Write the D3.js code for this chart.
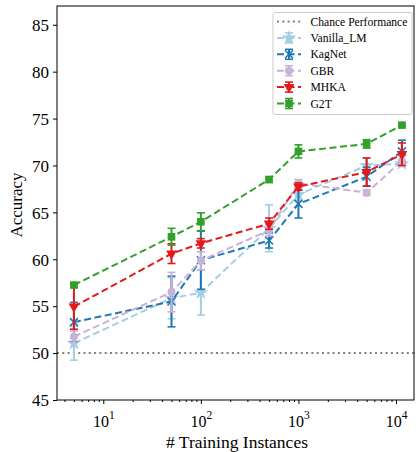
<!DOCTYPE html>
<html>
<head>
<meta charset="utf-8">
<script src="https://cdn.jsdelivr.net/npm/d3@7"></script>
<style>
  body { margin: 0; background: #fff; }
  svg { display: block; font-family: "Liberation Serif", "DejaVu Serif", serif; }
</style>
</head>
<body>
<div id="chart"></div>
<script>
// Accuracy vs number of training instances, with error bars

const trainSizes = [5, 50, 100, 500, 1000, 5000, 11500];

const vanillaMean = [51.05, 55.85, 56.45, 63.3, 66.9, 70.0, 70.2];
const vanillaErr  = [1.8, 2.2, 2.4, 2.5, 0.6, 0.8, 0.3];
const kagnetMean  = [53.3, 55.5, 59.9, 62.0, 65.9, 68.8, 71.5];
const kagnetErr   = [2.1, 2.7, 3.1, 0.8, 1.5, 1.0, 1.2];
const gbrMean     = [51.75, 56.5, 59.85, 63.1, 68.1, 67.1, 70.5];
const gbrErr      = [0.6, 2.1, 0.95, 0.6, 0.4, 0.3, 0.5];
const mhkaMean    = [54.95, 60.6, 61.7, 63.8, 67.75, 69.3, 71.2];
const mhkaErr     = [2.4, 1.05, 0.5, 0.6, 0.4, 1.5, 1.2];
const g2tMean     = [57.25, 62.4, 64.0, 68.5, 71.5, 72.3, 74.3];
const g2tErr      = [0.2, 0.9, 0.95, 0.3, 0.7, 0.45, 0.15];

const chanceLevel = 50;
const yTicks = [45, 50, 55, 60, 65, 70, 75, 80, 85];
const xMajorTicks = [10, 100, 1000, 10000];

const series = [
  { name: "Vanilla_LM", color: "#a6cee3", marker: "star",     mean: vanillaMean, err: vanillaErr },
  { name: "KagNet",     color: "#1f78b4", marker: "x",        mean: kagnetMean,  err: kagnetErr },
  { name: "GBR",        color: "#cab2d6", marker: "circle",   mean: gbrMean,     err: gbrErr },
  { name: "MHKA",       color: "#e31a1c", marker: "triangle", mean: mhkaMean,    err: mhkaErr },
  { name: "G2T",        color: "#33a02c", marker: "square",   mean: g2tMean,     err: g2tErr }
];

const width = 416;
const height = 452;
const margin = { top: 6, right: 2, bottom: 52, left: 57 };

const svg = d3.select("#chart")
  .append("svg")
  .attr("width", width)
  .attr("height", height);

const x = d3.scaleLog()
  .domain([3.354, 15290])
  .range([margin.left, width - margin.right]);

const y = d3.scaleLinear()
  .domain([45, 87])
  .range([height - margin.bottom, margin.top]);

// Chance line
svg.append("line")
  .attr("x1", x.range()[0])
  .attr("x2", x.range()[1])
  .attr("y1", y(chanceLevel))
  .attr("y2", y(chanceLevel))
  .attr("stroke", "#808080")
  .attr("stroke-width", 2)
  .attr("stroke-dasharray", "2,3.3");

// Marker drawing helper
function drawMarker(g, type, color) {
  if (type === "star") {
    g.append("path")
      .attr("d", d3.symbol().type(d3.symbolStar).size(70)())
      .attr("fill", color);
  } else if (type === "x") {
    g.append("path")
      .attr("d", "M-4,-4L4,4M-4,4L4,-4")
      .attr("stroke", color)
      .attr("stroke-width", 1.6)
      .attr("fill", "none");
  } else if (type === "circle") {
    g.append("circle").attr("r", 4).attr("fill", color);
  } else if (type === "triangle") {
    g.append("path")
      .attr("d", d3.symbol().type(d3.symbolTriangle).size(50)())
      .attr("transform", "rotate(180)")
      .attr("fill", color);
  } else if (type === "square") {
    g.append("rect")
      .attr("x", -3.8).attr("y", -3.8)
      .attr("width", 7.6).attr("height", 7.6)
      .attr("fill", color);
  }
}

const line = d3.line()
  .x(d => x(d.n))
  .y(d => y(d.v));

series.forEach(s => {
  const pts = trainSizes.map((n, i) => ({ n: n, v: s.mean[i], e: s.err[i] }));
  const g = svg.append("g");

  // error bars
  pts.forEach(p => {
    const cx = x(p.n);
    g.append("line")
      .attr("x1", cx).attr("x2", cx)
      .attr("y1", y(p.v - p.e)).attr("y2", y(p.v + p.e))
      .attr("stroke", s.color).attr("stroke-width", 2);
    [p.v - p.e, p.v + p.e].forEach(v => {
      g.append("line")
        .attr("x1", cx - 4).attr("x2", cx + 4)
        .attr("y1", y(v)).attr("y2", y(v))
        .attr("stroke", s.color).attr("stroke-width", 1.6);
    });
  });

  g.append("path")
    .datum(pts)
    .attr("d", line)
    .attr("fill", "none")
    .attr("stroke", s.color)
    .attr("stroke-width", 2)
    .attr("stroke-dasharray", "7,3.5");

  pts.forEach(p => {
    const mg = g.append("g").attr("transform", `translate(${x(p.n)},${y(p.v)})`);
    drawMarker(mg, s.marker, s.color);
  });
});

// Axes
const yAxis = svg.append("g")
  .attr("transform", `translate(${margin.left},0)`)
  .call(d3.axisLeft(y).tickValues(yTicks).tickSize(4).tickSizeOuter(0));
yAxis.select(".domain").remove();
yAxis.selectAll("text")
  .style("font-family", "Liberation Serif")
  .style("font-size", "17px")
  .attr("fill", "#000")
  .attr("x", -8)
  .attr("dy", "0.34em");

const xMinorTicks = [];
[1, 10, 100, 1000, 10000].forEach(base => {
  for (let k = 2; k <= 9; k++) {
    const v = base * k;
    if (v > x.domain()[0] && v < x.domain()[1]) xMinorTicks.push(v);
  }
});

svg.append("g")
  .attr("transform", `translate(0,${height - margin.bottom})`)
  .call(d3.axisBottom(x).tickValues(xMinorTicks).tickSize(2).tickFormat(""))
  .select(".domain").remove();

const xAxis = svg.append("g")
  .attr("transform", `translate(0,${height - margin.bottom})`)
  .call(d3.axisBottom(x).tickValues(xMajorTicks).tickSize(4).tickFormat(""));
xAxis.select(".domain").remove();
xAxis.selectAll(".tick").each(function(d) {
  const t = d3.select(this).append("text")
    .attr("y", 27)
    .attr("fill", "#000")
    .attr("text-anchor", "middle")
    .style("font-family", "Liberation Serif")
    .style("font-size", "16px");
  t.append("tspan").text("10");
  t.append("tspan")
    .attr("dy", -8)
    .style("font-size", "11.5px")
    .text(Math.round(Math.log10(d)));
});

// Frame
svg.append("rect")
  .attr("x", margin.left)
  .attr("y", margin.top)
  .attr("width", width - margin.left - margin.right)
  .attr("height", height - margin.top - margin.bottom)
  .attr("fill", "none")
  .attr("stroke", "#000")
  .attr("stroke-width", 1);

// Axis labels
svg.append("text")
  .attr("transform", `translate(22,205) rotate(-90)`)
  .attr("text-anchor", "middle")
  .style("font-size", "17px")
  .text("Accuracy");

svg.append("text")
  .attr("x", 237)
  .attr("y", 448)
  .attr("text-anchor", "middle")
  .style("font-size", "17.5px")
  .text("# Training Instances");

// Legend
const legendX = 273;
const legendY = 12.5;
const rowH = 16.4;
const legend = svg.append("g");

legend.append("rect")
  .attr("x", legendX)
  .attr("y", legendY)
  .attr("width", 139)
  .attr("height", 102)
  .attr("rx", 2)
  .attr("fill", "#fff")
  .attr("fill-opacity", 0.8)
  .attr("stroke", "#ccc")
  .attr("stroke-width", 1);

const legendItems = [{ name: "Chance Performance", chance: true }].concat(series);

legendItems.forEach((item, i) => {
  const cy = legendY + 9 + i * rowH;
  const hx0 = legendX + 4, hx1 = legendX + 28, hxc = (hx0 + hx1) / 2;
  if (item.chance) {
    legend.append("line")
      .attr("x1", hx0).attr("x2", hx1)
      .attr("y1", cy).attr("y2", cy)
      .attr("stroke", "#808080").attr("stroke-width", 2)
      .attr("stroke-dasharray", "2,3.3");
  } else {
    legend.append("line")
      .attr("x1", hx0).attr("x2", hx1)
      .attr("y1", cy).attr("y2", cy)
      .attr("stroke", item.color).attr("stroke-width", 2)
      .attr("stroke-dasharray", "7,3.5");
    legend.append("line")
      .attr("x1", hxc).attr("x2", hxc)
      .attr("y1", cy - 5).attr("y2", cy + 5)
      .attr("stroke", item.color).attr("stroke-width", 2);
    [cy - 5, cy + 5].forEach(yy => {
      legend.append("line")
        .attr("x1", hxc - 4).attr("x2", hxc + 4)
        .attr("y1", yy).attr("y2", yy)
        .attr("stroke", item.color).attr("stroke-width", 1.6);
    });
    const mg = legend.append("g").attr("transform", `translate(${hxc},${cy})`);
    drawMarker(mg, item.marker, item.color);
  }
  legend.append("text")
    .attr("x", legendX + 37.5)
    .attr("y", cy)
    .attr("dy", "0.35em")
    .style("font-size", "11.6px")
    .text(item.name);
});
</script>
</body>
</html>
